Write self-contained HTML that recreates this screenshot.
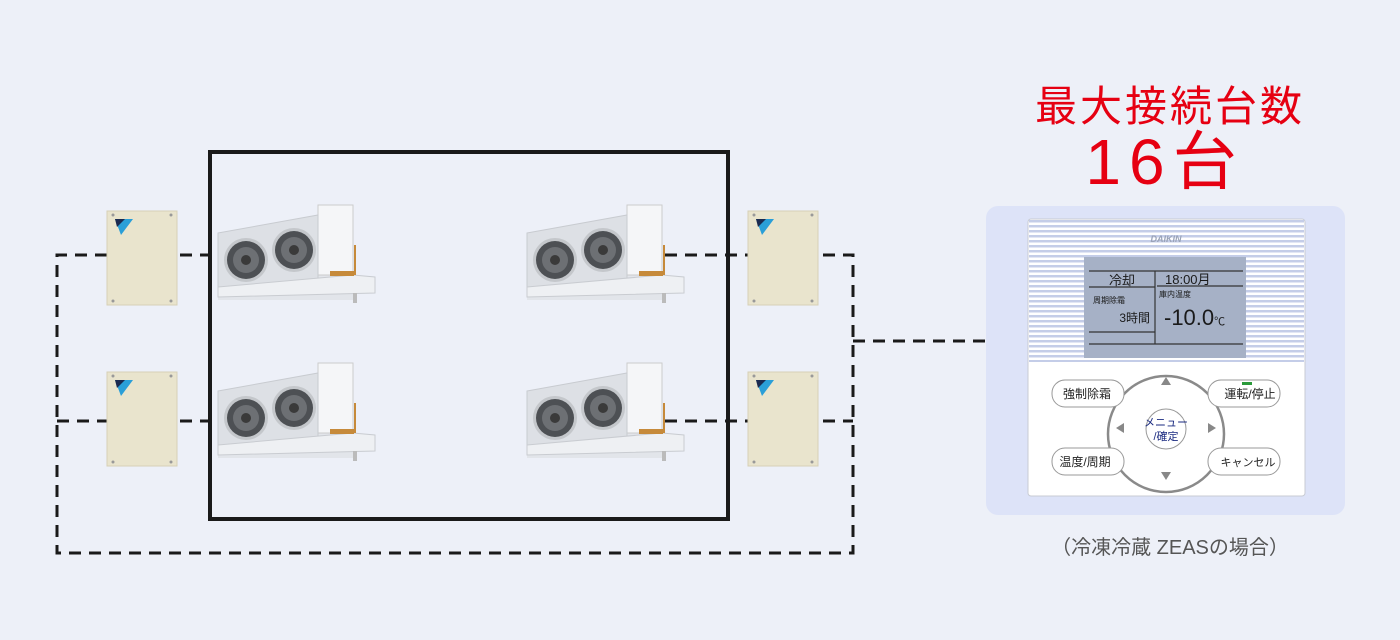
<!DOCTYPE html>
<html><head><meta charset="utf-8"><style>
body{margin:0;width:1400px;height:640px;background:#edf0f8;overflow:hidden;position:relative;font-family:"Liberation Sans","Noto Sans CJK JP",sans-serif}
.t{position:absolute;color:#e60012;text-align:center;white-space:nowrap}
</style></head><body>
<svg width="1400" height="640" style="position:absolute;left:0;top:0">
<defs>
<pattern id="stripes" width="4" height="5" patternUnits="userSpaceOnUse"><rect width="4" height="5" fill="#fff"/><rect width="4" height="2.5" fill="#c4cde8"/></pattern>
<g id="out">
<rect x="0" y="0" width="70" height="94" fill="#e9e4cd" stroke="#d6d0b6"/>
<polygon points="8,8 26,8 14,24" fill="#2a9fd8"/>
<polygon points="8,8 18,8 10,16" fill="#1a2a50"/>
<circle cx="6" cy="4" r="1.5" fill="#999"/><circle cx="64" cy="4" r="1.5" fill="#999"/>
<circle cx="6" cy="90" r="1.5" fill="#999"/><circle cx="64" cy="90" r="1.5" fill="#999"/>
</g>
<g id="fan"><circle r="22" fill="#c4c7cb"/><circle r="19" fill="#4d5054"/><circle r="13" fill="#6d7074"/><circle r="5" fill="#3a3a3a"/></g>
<g id="ind">
<polygon points="0,30 100,12 135,12 135,95 0,95" fill="#e2e5ea"/>
<rect x="100" y="0" width="35" height="70" fill="#f5f6f8" stroke="#ccc"/>
<polygon points="0,28 100,10 100,80 0,88" fill="#dde0e5" stroke="#c8cbd0"/>
<use href="#fan" x="28" y="55"/><use href="#fan" x="76" y="45"/>
<polygon points="0,82 135,70 157,72 157,88 0,92" fill="#eef0f3" stroke="#c9ccd1"/>
<line x1="137" y1="40" x2="137" y2="70" stroke="#c68a3a" stroke-width="2"/>
<rect x="112" y="66" width="24" height="5" fill="#c68a3a"/>
<rect x="135" y="88" width="4" height="10" fill="#bbb"/>
</g>
</defs>
<g fill="none" stroke="#1a1a1a" stroke-width="3" stroke-dasharray="12,8">
<polyline points="107,255 57,255 57,553 853,553 853,255 823,255"/>
<line x1="57" y1="421" x2="107" y2="421"/>
<line x1="823" y1="421" x2="853" y2="421"/>
<line x1="180" y1="255" x2="218" y2="255"/>
<line x1="180" y1="421" x2="218" y2="421"/>
<line x1="665" y1="255" x2="748" y2="255"/>
<line x1="665" y1="421" x2="748" y2="421"/>
<line x1="853" y1="341" x2="986" y2="341"/>
</g>
<rect x="210" y="152" width="518" height="367" fill="none" stroke="#1a1a1a" stroke-width="4"/>
<use href="#out" x="107" y="211"/><use href="#out" x="107" y="372"/>
<use href="#out" x="748" y="211"/><use href="#out" x="748" y="372"/>
<use href="#ind" x="218" y="205"/><use href="#ind" x="218" y="363"/>
<use href="#ind" x="527" y="205"/><use href="#ind" x="527" y="363"/>
<rect x="986" y="206" width="359" height="309" rx="12" fill="#dde3f8"/>
<rect x="1028" y="219" width="277" height="277" rx="3" fill="#fff" stroke="#c8cbd3"/>
<rect x="1029" y="220" width="275" height="142" fill="url(#stripes)"/>
<text x="1166" y="242" font-size="9" font-style="italic" font-weight="bold" fill="#9aa3b8" text-anchor="middle">DAIKIN</text>
<rect x="1084" y="257" width="162" height="101" fill="#a6b1c6"/>
<g stroke="#333" stroke-width="1.2"><line x1="1089" y1="271" x2="1243" y2="271"/><line x1="1089" y1="344" x2="1243" y2="344"/><line x1="1155" y1="271" x2="1155" y2="344"/><line x1="1089" y1="287" x2="1155" y2="287"/><line x1="1157" y1="286" x2="1243" y2="286"/><line x1="1089" y1="332" x2="1155" y2="332"/></g>
<g fill="#1a1a1a"><text x="1122" y="285" font-size="13" text-anchor="middle">冷却</text><text x="1165" y="284" font-size="13">18:00月</text>
<text x="1093" y="303" font-size="8">周期除霜</text><text x="1150" y="322" font-size="12" text-anchor="end">3時間</text>
<text x="1159" y="297" font-size="8">庫内温度</text><text x="1164" y="325" font-size="22">-10.0<tspan font-size="11">℃</tspan></text></g>
<circle cx="1166" cy="434" r="58" fill="#fff" stroke="#8a8a8a" stroke-width="2.5"/>
<circle cx="1166" cy="429" r="20" fill="#fff" stroke="#999"/>
<text x="1166" y="426" font-size="11" fill="#1a2a80" text-anchor="middle">メニュー</text>
<text x="1166" y="440" font-size="11" fill="#1a2a80" text-anchor="middle">/確定</text>
<g fill="#888"><polygon points="1166,377 1161,385 1171,385"/><polygon points="1166,480 1161,472 1171,472"/><polygon points="1116,428 1124,423 1124,433"/><polygon points="1216,428 1208,423 1208,433"/></g>
<g fill="#fff" stroke="#999"><rect x="1052" y="380" width="72" height="27" rx="13"/><rect x="1052" y="448" width="72" height="27" rx="13"/><rect x="1208" y="380" width="72" height="27" rx="13"/><rect x="1208" y="448" width="72" height="27" rx="13"/></g>
<rect x="1242" y="382" width="10" height="3" fill="#2a9a3a"/>
<g font-size="12" fill="#222" text-anchor="middle"><text x="1087" y="398">強制除霜</text><text x="1085" y="466">温度/周期</text><text x="1250" y="398">運転/停止</text><text x="1248" y="466" font-size="11">キャンセル</text></g>
</svg>
<div class="t" style="left:1020px;top:82px;width:300px;font-size:42px;line-height:50px;letter-spacing:3px">最大接続台数</div>
<div class="t" style="left:1060px;top:127px;width:210px;font-size:64px;line-height:70px;letter-spacing:8px">16台</div>
<div style="position:absolute;left:1030px;top:531px;width:280px;text-align:center;font-size:20px;color:#555;white-space:nowrap">（冷凍冷蔵 ZEASの場合）</div>
</body></html>
